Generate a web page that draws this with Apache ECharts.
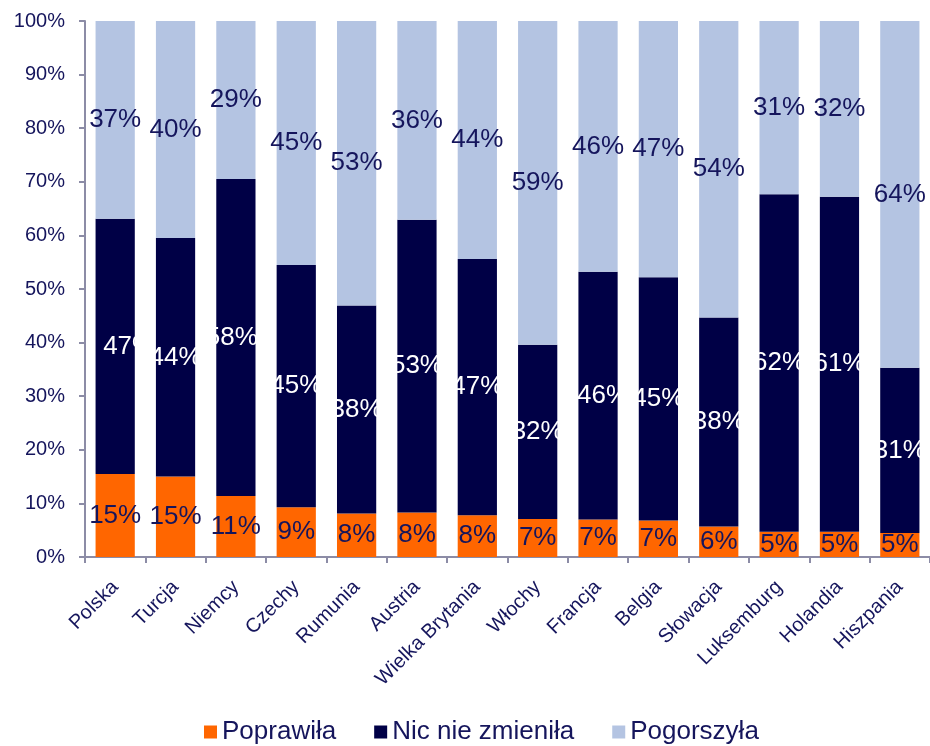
<!DOCTYPE html>
<html>
<head>
<meta charset="utf-8">
<script src="https://cdn.jsdelivr.net/npm/echarts@6/dist/echarts.min.js"></script>
<style>html,body{margin:0;padding:0;background:#fff}#c{width:930px;height:746px}</style>
</head>
<body>
<div id="c"></div>
<script>
const categories = ['Polska','Turcja','Niemcy','Czechy','Rumunia','Austria','Wielka Brytania','Włochy','Francja','Belgia','Słowacja','Luksemburg','Holandia','Hiszpania'];
// segment heights (percent)
const improved  = [15.5, 15.0, 11.4, 9.3, 8.1, 8.3, 7.8, 7.1, 7.0, 6.8, 5.7, 4.7, 4.7, 4.5];
const unchanged = [47.6, 44.5, 59.1, 45.2, 38.8, 54.6, 47.8, 32.5, 46.2, 45.4, 39.0, 63.0, 62.5, 30.8];
const worsened  = [36.9, 40.5, 29.5, 45.5, 53.1, 37.1, 44.4, 60.4, 46.8, 47.8, 55.3, 32.3, 32.8, 64.7];
// printed data labels
const improvedLabels  = [15, 15, 11, 9, 8, 8, 8, 7, 7, 7, 6, 5, 5, 5];
const unchangedLabels = [47, 44, 58, 45, 38, 53, 47, 32, 46, 45, 38, 62, 61, 31];
const worsenedLabels  = [37, 40, 29, 45, 53, 36, 44, 59, 46, 47, 54, 31, 32, 64];
const seriesNames = ['Poprawiła', 'Nic nie zmieniła', 'Pogorszyła'];
const yTicks = [0, 10, 20, 30, 40, 50, 60, 70, 80, 90, 100];

// style: horizontal nudges of a few middle-segment labels (by category index)
const middleLabelNudge = {0: 14, 2: -4, 8: 5};

const FONT = "'Liberation Sans', Arial, sans-serif";
const TXT = '#15155c';
const chart = echarts.init(document.getElementById('c'), null, {renderer: 'canvas'});

function mk(name, data, labels, color, labelColor, nudge) {
  return {
    name: name, type: 'bar', stack: 'total', barWidth: '65%',
    data: data.map((v, i) => (nudge && nudge[i] !== undefined)
      ? {value: v, label: {offset: [nudge[i], 0]}} : v),
    itemStyle: {color: color},
    label: {
      show: true, position: 'inside', color: labelColor, fontSize: 26, fontFamily: FONT,
      formatter: p => labels[p.dataIndex] + '%'
    },
    emphasis: {disabled: true}
  };
}

chart.setOption({
  animation: false,
  backgroundColor: '#ffffff',
  textStyle: {fontFamily: FONT},
  grid: {left: 85, right: -5, top: 21, bottom: 189, containLabel: false},
  legend: {
    data: seriesNames, left: 199, top: 714, itemWidth: 13, itemHeight: 13, itemGap: 38,
    icon: 'rect',
    textStyle: {fontSize: 26, color: TXT, fontFamily: FONT}
  },
  xAxis: {
    type: 'category', data: categories,
    axisLine: {lineStyle: {color: '#8c8ca6', width: 2}},
    axisTick: {show: true, length: 6, lineStyle: {color: '#8c8ca6', width: 2}},
    axisLabel: {interval: 0, rotate: 45, fontSize: 20, color: TXT, fontFamily: FONT, margin: 27}
  },
  yAxis: {
    type: 'value', min: yTicks[0], max: yTicks[yTicks.length - 1], interval: 10,
    axisLine: {show: true, lineStyle: {color: '#8c8ca6', width: 2}},
    axisTick: {show: true, length: 6, lineStyle: {color: '#8c8ca6', width: 2}},
    splitLine: {show: false},
    axisLabel: {formatter: '{value}%', fontSize: 20, color: TXT, fontFamily: FONT, margin: 20}
  },
  series: [
    mk(seriesNames[0], improved, improvedLabels, '#ff6600', TXT),
    mk(seriesNames[1], unchanged, unchangedLabels, '#000046', '#ffffff', middleLabelNudge),
    mk(seriesNames[2], worsened, worsenedLabels, '#b4c4e2', TXT)
  ]
});
</script>
</body>
</html>
